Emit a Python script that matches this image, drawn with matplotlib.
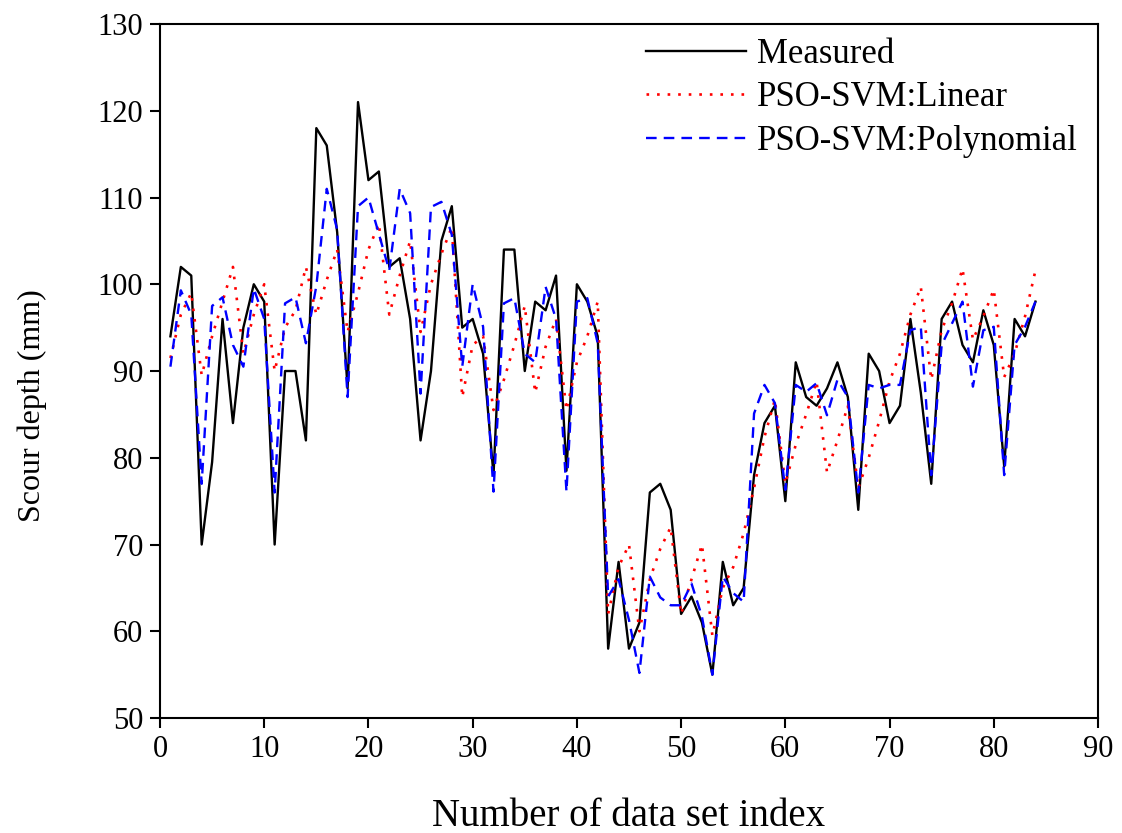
import matplotlib
matplotlib.use("Agg")
import matplotlib.pyplot as plt
import numpy as np

plt.rcParams['font.family'] = ['Liberation Serif', 'DejaVu Serif']

index = np.arange(1, 85)

measured = [94, 102, 101, 70, 79.5, 96, 84, 95, 100, 98,
            70, 90, 90, 82, 118, 116, 106, 88, 121, 112,
            113, 102, 103, 96, 82, 90, 105, 109, 95, 96,
            92, 78, 104, 104, 90, 98, 97, 101, 78.5, 100,
            98, 94, 58, 68, 58, 61, 76, 77, 74, 62,
            64, 61, 55, 68, 63, 65, 78, 84, 86, 75,
            91, 87, 86, 88, 91, 87, 74, 92, 90, 84,
            86, 96, 87.5, 77, 96, 98, 93, 91, 97, 93,
            79, 96, 94, 98]

linear = [91.5, 96.5, 99, 89.5, 94, 98, 102, 92, 96.5, 100,
          90, 95, 97, 102, 96.5, 100.5, 104, 94.5, 99, 104,
          107, 96.5, 101, 105, 94.5, 100, 103.5, 106.6, 87, 93,
          94, 85.5, 89, 93, 97.5, 87.5, 92.8, 96, 85.5, 91,
          94, 98, 62, 67.4, 70, 60, 66, 69.5, 72, 62,
          66, 70, 59.5, 65, 67.4, 71.3, 76.5, 82.4, 86.7, 77,
          81.5, 85, 88.8, 78.3, 82, 86, 76.5, 80, 84.2, 88.8,
          92, 96.5, 99.7, 89, 94.7, 97.8, 101.8, 93.6, 96.3, 99.4,
          89.3, 92, 96.3, 101.6]

poly = [90.5, 99.3, 96.5, 77, 97.5, 98.5, 93, 90.5, 99.5, 96,
        76, 97.8, 98.5, 93.2, 99.8, 111, 106.3, 87, 109, 110,
        105.8, 101.6, 111, 108.2, 87.4, 108.9, 109.5, 105.7, 90.5, 100,
        95.1, 76.1, 97.8, 98.4, 92, 91, 99.7, 96, 76.1, 98,
        98.4, 93.2, 64, 66, 61.3, 55.2, 66.3, 63.9, 63, 63,
        65.5, 61.7, 55, 66.3, 64.4, 63.4, 85.1, 88.4, 86.3, 76.3,
        88.4, 87.6, 88.6, 84.9, 89, 87, 76, 88.4, 88, 88.4,
        88.4, 94.7, 95.1, 78, 93, 95.5, 98, 88.2, 94.7, 95.1,
        78, 93, 95.1, 98]

fig = plt.figure(figsize=(11.22, 8.33), dpi=100)
ax = fig.add_axes([0.1426, 0.138, 0.836, 0.8332])

ax.plot(index, measured, color="black", linestyle="-", linewidth=1.7, label="Measured")
ax.plot(index, linear, color="red", linestyle=(0, (1, 3)), linewidth=1.9, label="PSO-SVM:Linear")
ax.plot(index, poly, color="blue", linestyle=(0, (4.5, 3)), linewidth=1.7, label="PSO-SVM:Polynomial")

ax.set_xlim(0, 90)
ax.set_ylim(50, 130)
ax.set_xticks(np.arange(0, 91, 10))
ax.set_yticks(np.arange(50, 131, 10))
ax.tick_params(direction="out", length=7, width=1.5, labelsize=22, pad=5)
for s in ax.spines.values():
    s.set_linewidth(1.5)

ax.set_xlabel("Number of data set index", fontsize=28)
ax.xaxis.set_label_coords(0.5, -0.115)
ax.set_ylabel("Scour depth (mm)", fontsize=23)
ax.yaxis.set_label_coords(-0.12, 0.45)

ax.legend(loc="upper right", frameon=False, fontsize=25, handlelength=2.9,
          handletextpad=0.3, labelspacing=0.3, borderaxespad=0.0,
          bbox_to_anchor=(0.993, 1.0))

fig.savefig("out.png", dpi=100)
